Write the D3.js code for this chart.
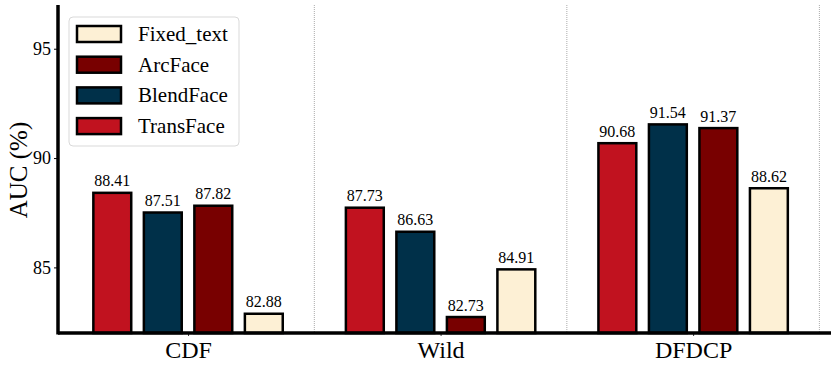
<!DOCTYPE html>
<html>
<head>
<meta charset="utf-8">
<script src="https://cdn.jsdelivr.net/npm/d3@7"></script>
<style>
  body { margin: 0; background: #fff; }
  svg text { font-family: "Liberation Serif", "Times New Roman", serif !important; fill: #000; }
</style>
</head>
<body>
<svg id="chart" width="831" height="370" viewBox="0 0 831 370"></svg>
<script>
// data
const datasets = ["CDF", "Wild", "DFDCP"];
const methods = ["TransFace", "BlendFace", "ArcFace", "Fixed_text"];
const transFace = [88.41, 87.73, 90.68];
const blendFace = [87.51, 86.63, 91.54];
const arcFace = [87.82, 82.73, 91.37];
const fixedText = [82.88, 84.91, 88.62];
const yTicks = [85, 90, 95];
const legendOrder = ["Fixed_text", "ArcFace", "BlendFace", "TransFace"];

const series = { TransFace: transFace, BlendFace: blendFace, ArcFace: arcFace, Fixed_text: fixedText };
const colors = { TransFace: "#c1121f", BlendFace: "#003049", ArcFace: "#780000", Fixed_text: "#fdf0d5" };

const svg = d3.select("#chart");
const plotLeft = 58, plotRight = 831, plotTop = 5, plotBottom = 333;

// x in "group index" units, like a matplotlib axis
const x = d3.scaleLinear().domain([-0.515, 2.546]).range([plotLeft, plotRight]);
const y = d3.scaleLinear().domain([82, 97]).range([plotBottom, plotTop]);
const barStep = 0.2, barWidth = 0.15;

// dotted separators between groups
svg.append("g").selectAll("line")
    .data([0.5, 1.5, 2.5])
    .enter()
    .append("line")
    .attr("x1", d => x(d)).attr("x2", d => x(d))
    .attr("y1", plotTop).attr("y2", plotBottom)
    .attr("stroke", "#aaa")
    .attr("stroke-width", 1)
    .attr("stroke-dasharray", "1,1");

// bars
const rows = [];
datasets.forEach((ds, i) => {
    methods.forEach((m, j) => {
        rows.push({ ds: ds, m: m, i: i, j: j, v: series[m][i] });
    });
});
const xPos = d => x(d.i + (d.j - 1.5) * barStep);
const bw = x(barWidth) - x(0);

svg.append("g").selectAll("rect")
    .data(rows)
    .enter()
    .append("rect")
    .attr("x", d => xPos(d) - bw / 2)
    .attr("width", bw)
    .attr("y", d => y(d.v))
    .attr("height", d => plotBottom - y(d.v))
    .attr("fill", d => colors[d.m])
    .attr("stroke", "#000")
    .attr("stroke-width", 2.5);

// value labels
svg.append("g").selectAll("text")
    .data(rows)
    .enter()
    .append("text")
    .attr("x", d => xPos(d))
    .attr("y", d => y(d.v) - 6.5)
    .attr("text-anchor", "middle")
    .attr("font-size", 16)
    .text(d => d.v.toFixed(2));

// y axis
const yAxis = svg.append("g")
    .attr("transform", `translate(${plotLeft},0)`)
    .call(d3.axisLeft(y).tickValues(yTicks).tickSize(4).tickPadding(3));
yAxis.select(".domain").remove();
yAxis.selectAll("text").attr("font-size", 18);
yAxis.selectAll(".tick line").attr("stroke-width", 1);

// x axis category labels
const xAxis = svg.append("g")
    .attr("transform", `translate(0,${plotBottom})`)
    .call(d3.axisBottom(x).tickValues([0, 1, 2]).tickFormat(d => datasets[d]).tickSize(3).tickPadding(5));
xAxis.select(".domain").remove();
xAxis.selectAll("text").attr("font-size", 24);
xAxis.selectAll(".tick line").attr("stroke-width", 0.8);

// spines
svg.append("line")
    .attr("x1", plotLeft).attr("x2", plotLeft)
    .attr("y1", plotTop).attr("y2", plotBottom + 1.5)
    .attr("stroke", "#000").attr("stroke-width", 3.5);
svg.append("line")
    .attr("x1", plotLeft).attr("x2", plotRight)
    .attr("y1", plotBottom).attr("y2", plotBottom)
    .attr("stroke", "#000").attr("stroke-width", 3.5);

// y label
svg.append("text")
    .attr("transform", `translate(27,170) rotate(-90)`)
    .attr("text-anchor", "middle")
    .attr("font-size", 25)
    .text("AUC (%)");

// legend
const legend = svg.append("g").attr("transform", "translate(69,17)");
legend.append("rect")
    .attr("width", 170).attr("height", 129)
    .attr("rx", 4)
    .attr("fill", "#fff")
    .attr("fill-opacity", 0.8)
    .attr("stroke", "#d9d9d9")
    .attr("stroke-width", 1);
const items = legend.selectAll(".item")
    .data(legendOrder)
    .enter()
    .append("g")
    .attr("transform", (d, i) => `translate(8,${17 + i * 30.7})`);
items.append("rect")
    .attr("y", -8)
    .attr("width", 44).attr("height", 16)
    .attr("fill", d => colors[d])
    .attr("stroke", "#000")
    .attr("stroke-width", 2.5);
items.append("text")
    .attr("x", 61)
    .attr("y", 7)
    .attr("font-size", 21)
    .text(d => d);
</script>
</body>
</html>
